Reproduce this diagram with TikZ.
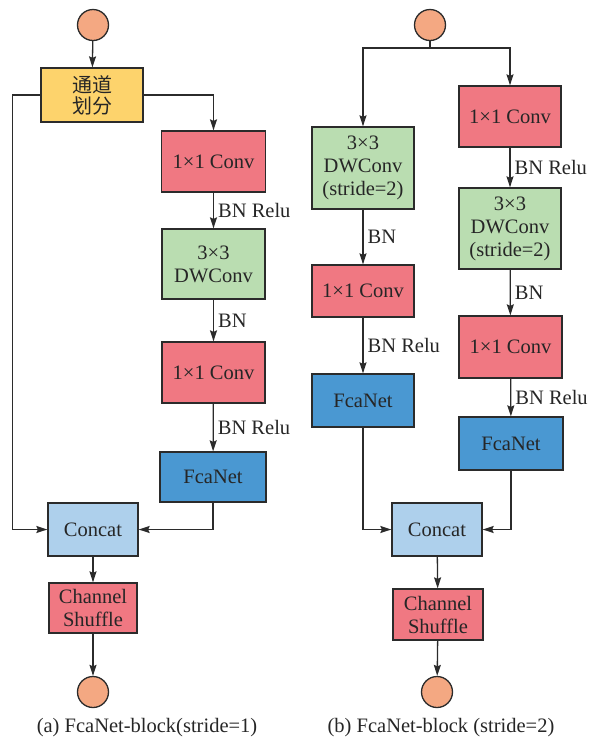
\documentclass[tikz,border=0pt]{standalone}
\usepackage{fontspec}
\setmainfont{Liberation Serif}
\newfontfamily\cjk{Noto Sans CJK SC}
\usetikzlibrary{arrows.meta}
\definecolor{cyel}{HTML}{FDD36C}
\definecolor{cred}{HTML}{F07882}
\definecolor{cgrn}{HTML}{BADDB1}
\definecolor{cblu}{HTML}{4A98D2}
\definecolor{clbl}{HTML}{AED0EC}
\definecolor{corg}{HTML}{F4A882}
\definecolor{cline}{HTML}{2B2B2B}
\begin{document}
\begin{tikzpicture}[x=1pt,y=-1pt,
  font=\fontsize{20.5}{23}\selectfont,
  box/.style={draw=cline,line width=1.3pt,inner sep=0pt,align=center,text=black!85},
  term/.style={circle,draw=cline,line width=1.3pt,fill=corg,minimum size=31pt,inner sep=0pt},
  arr/.style={draw=cline,line width=1.3pt,-{Stealth[length=11pt,width=7pt,inset=1.5pt]}},
  lab/.style={midway,anchor=west,inner sep=0pt,xshift=4pt,text=black!85},
  captext/.style={inner sep=0pt,text=black!85}]
\useasboundingbox (0,0) rectangle (601,740);
% ---------- (a) ----------
\node[term] (ina) at (93,25) {};
\node[box,fill=cyel,minimum width=102pt,minimum height=54pt,font=\cjk\fontsize{20}{21}\selectfont] (split) at (92,95) {通道\\划分};
\node[box,fill=cred,minimum width=104pt,minimum height=61pt] (conv1a) at (213.5,161.5) {1×1 Conv};
\node[box,fill=cgrn,minimum width=103pt,minimum height=70pt] (dwa) at (213.5,264) {3×3\\DWConv};
\node[box,fill=cred,minimum width=103pt,minimum height=61pt] (conv2a) at (213.5,372.5) {1×1 Conv};
\node[box,fill=cblu,minimum width=106pt,minimum height=50pt] (fcaa) at (213,477) {FcaNet};
\node[box,fill=clbl,minimum width=90pt,minimum height=53pt] (concata) at (93,529.5) {Concat};
\node[box,fill=cred,minimum width=88pt,minimum height=50pt] (shufa) at (93,608) {Channel\\Shuffle};
\node[term] (outa) at (93,692) {};
\node[captext] (capa) at (147,728) {(a) FcaNet-block(stride=1)};
\draw[arr] (ina) -- (split);
\draw[arr] (split.west) -- ++(-28,0) |- (concata.west);
\draw[arr] (split.east) -| (conv1a.north);
\draw[arr] (conv1a) -- node[lab]{BN Relu} (dwa);
\draw[arr] (dwa) -- node[lab]{BN} (conv2a);
\draw[arr] (conv2a) -- node[lab]{BN Relu} (fcaa);
\draw[arr] (fcaa.south) |- (concata.east);
\draw[arr] (concata) -- (shufa);
\draw[arr] (shufa) -- (outa);
% ---------- (b) ----------
\node[term] (inb) at (430,25) {};
\coordinate (jb) at (430,48);
\node[box,fill=cgrn,minimum width=102pt,minimum height=82pt] (dwb1) at (363,168) {3×3\\DWConv\\(stride=2)};
\node[box,fill=cred,minimum width=102pt,minimum height=52pt] (conv1bl) at (363,291) {1×1 Conv};
\node[box,fill=cblu,minimum width=102pt,minimum height=53pt] (fcab1) at (363,400.5) {FcaNet};
\node[box,fill=cred,minimum width=102pt,minimum height=61pt] (conv1b) at (510,116.5) {1×1 Conv};
\node[box,fill=cgrn,minimum width=102pt,minimum height=81pt] (dwb2) at (510,228.5) {3×3\\DWConv\\(stride=2)};
\node[box,fill=cred,minimum width=103pt,minimum height=62pt] (conv2b) at (510.5,347) {1×1 Conv};
\node[box,fill=cblu,minimum width=104pt,minimum height=53pt] (fcab2) at (511,443.5) {FcaNet};
\node[box,fill=clbl,minimum width=90pt,minimum height=53pt] (concatb) at (437,529.5) {Concat};
\node[box,fill=cred,minimum width=90pt,minimum height=51pt] (shufb) at (438,614.5) {Channel\\Shuffle};
\node[term] (outb) at (437,692) {};
\node[captext] (capb) at (441,728) {(b) FcaNet-block (stride=2)};
\draw[draw=cline,line width=1.3pt] (inb.south) -- (jb);
\draw[arr] (jb) -| (dwb1.north);
\draw[arr] (jb) -| (conv1b.north);
\draw[arr] (dwb1) -- node[lab]{BN} (conv1bl);
\draw[arr] (conv1bl) -- node[lab]{BN Relu} (fcab1);
\draw[arr] (fcab1.south) |- (concatb.west);
\draw[arr] (conv1b) -- node[lab]{BN Relu} (dwb2);
\draw[arr] (dwb2) -- node[lab]{BN} (conv2b);
\draw[arr] (conv2b) -- node[lab]{BN Relu} (fcab2);
\draw[arr] (fcab2.south) |- (concatb.east);
\draw[arr] (concatb) -- (shufb);
\draw[arr] (shufb) -- (outb);
\end{tikzpicture}
\end{document}
